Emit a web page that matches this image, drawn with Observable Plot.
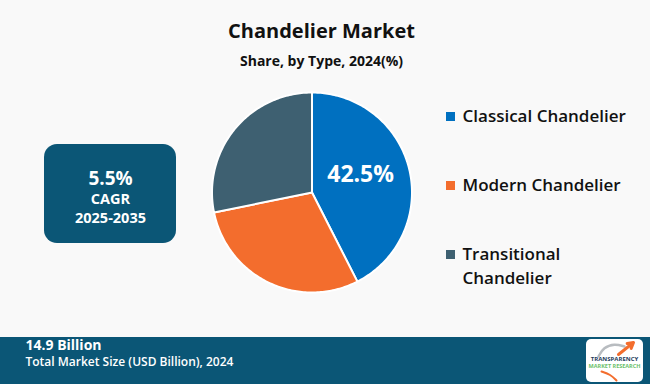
<!DOCTYPE html>
<html><head><meta charset="utf-8">
<script src="https://cdn.jsdelivr.net/npm/d3@7"></script>
<script src="https://cdn.jsdelivr.net/npm/@observablehq/plot@0.6"></script>
<style>html,body{margin:0;padding:0;background:#f9f9f9;} svg{display:block}</style>
</head><body><div id="chart"></div>
<script>
// ---- data ----
const categories = ["Classical Chandelier", "Modern Chandelier", "Transitional Chandelier"];
const shares = [42.5, 29.3, 28.2];
const colors = ["#0070C0", "#F36D2D", "#3E6071"];
const legendLines = [["Classical Chandelier"], ["Modern Chandelier"], ["Transitional", "Chandelier"]];
const sliceLabels = ["42.5%", "", ""];
const titleText = "Chandelier Market";
const subtitleText = "Share, by Type, 2024(%)";
const cagrLines = ["5.5%", "CAGR", "2025-2035"];
const marketSize = "14.9 Billion";
const marketSizeLabel = "Total Market Size (USD Billion), 2024";
const logoLines = ["TRANSPARENCY", "MARKET RESEARCH"];

// ---- layout ----
const W = 650, H = 384;
const cx = 311.5, cy = 192, R = 100;
const font = "'Open Sans', sans-serif";
const navy = "#0B5676";

const pie = d3.pie().sort(null).value(d => d.share)(categories.map((c, i) => ({cat: c, share: shares[i], label: sliceLabels[i]})));
const piePts = [];
for (const s of pie) {
  piePts.push({cat: s.data.cat, x: cx, y: cy});
  const n = Math.max(2, Math.ceil((s.endAngle - s.startAngle) / (Math.PI / 180)));
  for (let k = 0; k <= n; k++) {
    const a = s.startAngle + (s.endAngle - s.startAngle) * k / n;
    piePts.push({cat: s.data.cat, x: cx + R * Math.sin(a), y: cy - R * Math.cos(a)});
  }
  piePts.push({cat: s.data.cat, x: cx, y: cy});
}
const labelPts = pie.filter(s => s.data.label).map(s => {
  const a = (s.startAngle + s.endAngle) / 2;
  return {text: s.data.label, x: cx + R * 0.5 * Math.sin(a), y: cy - R * 0.5 * Math.cos(a)};
});

const legendItems = categories.map((c, i) => ({cat: c, i}));
const legendText = legendLines.flatMap((lines, i) => lines.map((t, j) => ({t, i, j})));

const chart = Plot.plot({
  width: W, height: H,
  margin: 0,
  style: {background: "#f9f9f9", fontFamily: font},
  x: {domain: [0, W], range: [0, W], axis: null},
  y: {domain: [0, H], range: [0, H], axis: null},
  color: {domain: categories, range: colors},
  marks: [
    // title
    Plot.text([titleText], {x: () => 321, y: () => 31, text: d => d, fontSize: 20, fontWeight: 700, fill: "#111"}),
    Plot.text([subtitleText], {x: () => 321, y: () => 61, text: d => d, fontSize: 14, fontWeight: 700, fill: "#111"}),
    // pie
    Plot.line(piePts, {x: "x", y: "y", z: "cat", fill: "cat", stroke: "white", strokeWidth: 2, strokeLinejoin: "round", curve: "linear"}),
    Plot.text(labelPts, {x: "x", y: "y", text: "text", fill: "white", fontSize: 23, fontWeight: 700, dy: -6}),
    // legend
    Plot.rect(legendItems, {x1: () => 446, x2: () => 455, y1: d => 112 + d.i * 69, y2: d => 121 + d.i * 69, fill: "cat"}),
    Plot.text(legendText, {x: () => 462, y: d => 116 + d.i * 69 + d.j * 24, text: "t", textAnchor: "start", fontSize: 17, fontWeight: 600, fill: "#111"}),
    // CAGR box
    Plot.rect([0], {x1: () => 44, x2: () => 176, y1: () => 144, y2: () => 243, fill: navy, rx: 13}),
    Plot.text(cagrLines.map((t, j) => ({t, j})), {x: () => 110, y: d => [178, 199, 218][d.j], text: "t", fill: "white", fontWeight: 700, fontSize: d => d.j === 0 ? 19 : 14.5}),
    // bottom band
    Plot.rect([0], {x1: () => 0, x2: () => W, y1: () => 337, y2: () => H, fill: navy}),
    Plot.text([marketSize], {x: () => 25, y: () => 345.5, text: d => d, textAnchor: "start", fill: "white", fontSize: 14, fontWeight: 700}),
    Plot.text([marketSizeLabel], {x: () => 25, y: () => 362, text: d => d, textAnchor: "start", fill: "white", fontSize: 12, fontWeight: 600}),
    // logo
    Plot.rect([0], {x1: () => 586, x2: () => 643, y1: () => 339, y2: () => 382, fill: "white", rx: 5}),
    Plot.line([{x: 598, y: 356}, {x: 603, y: 347}, {x: 614, y: 343}, {x: 624, y: 346}], {x: "x", y: "y", stroke: "#b8bcc0", strokeWidth: 2.5, curve: "basis"}),
    Plot.arrow([0], {x1: () => 618, y1: () => 354, x2: () => 633, y2: () => 342, stroke: "#F36D2D", strokeWidth: 3, headLength: 6}),
    Plot.text(logoLines.map((t, j) => ({t, j})), {x: () => 614, y: d => 359 + d.j * 7, text: "t", fontSize: d => d.j === 0 ? 6 : 5.5, fontWeight: 700, fill: d => d.j === 0 ? "#1d3a5c" : "#6bbf6b"}),
    Plot.line([{x: 601, y: 371}, {x: 610, y: 374}, {x: 616, y: 380}], {x: "x", y: "y", stroke: "#F36D2D", strokeWidth: 2, curve: "basis"})
  ]
});
document.getElementById("chart").appendChild(chart);
</script>
</body></html>
